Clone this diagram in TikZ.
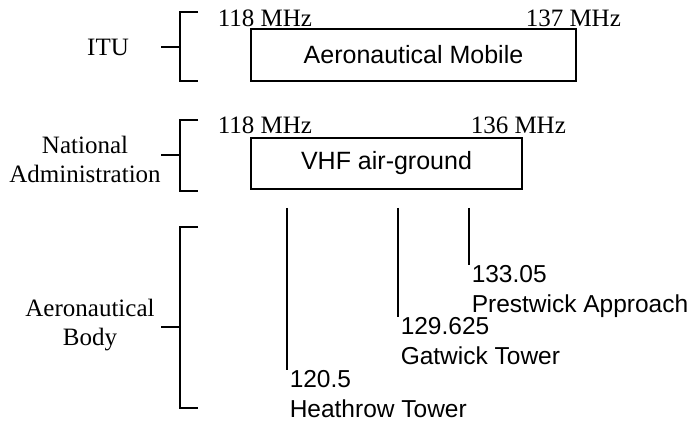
\documentclass[tikz,border=0pt]{standalone}
\usepackage{fontspec}
\setmainfont{Liberation Serif}
\newfontfamily\arialf{Liberation Sans}
\begin{document}
\begin{tikzpicture}[x=1pt,y=-1pt,line width=1.5pt,
  serif/.style={font=\fontsize{25}{29.5}\selectfont, inner sep=0pt, align=center},
  sans/.style={font=\arialf\fontsize{24.5}{30}\selectfont, inner sep=0pt, align=left},
  band/.style={draw, inner sep=0pt, font=\arialf\fontsize{25}{30}\selectfont},
  freq/.style={font=\fontsize{25}{30}\selectfont, inner sep=0pt, anchor=base west}]
\useasboundingbox (0,0) rectangle (691,427);

% side labels
\node[serif] (itu) at (108,47) {ITU};
\node[serif, anchor=base] (nat) at (85,183) {National\\Administration};
\node[serif, anchor=base] (aer) at (90,346) {Aeronautical\\Body};

% brackets
\coordinate (b1t) at (198,12); \coordinate (b1b) at (198,81);
\draw (b1t) -- (180,12) -- (180,81) -- (b1b);
\draw (161,47) -- (180,47);
\coordinate (b2t) at (198,120); \coordinate (b2b) at (198,191);
\draw (b2t) -- (180,120) -- (180,191) -- (b2b);
\draw (161,155) -- (180,155);
\coordinate (b3t) at (198,227); \coordinate (b3b) at (198,408);
\draw (b3t) -- (180,227) -- (180,408) -- (b3b);
\draw (161,327) -- (180,327);

% bands
\node[band, minimum width=325pt, minimum height=52pt] (am) at (413.5,55) {Aeronautical Mobile};
\node[band, minimum width=271pt, minimum height=51pt] (vhf) at (386.5,163.5) {VHF air-ground};

\node[freq] (f1) at (217,27) {118 MHz};
\node[freq] (f2) at (525,27) {137 MHz};
\node[freq] (f3) at (217,134) {118 MHz};
\node[freq] (f4) at (470,134) {136 MHz};

% channels
\node[sans, anchor=north west] (hr) at (289,370) {120.5\\Heathrow Tower};
\node[sans, anchor=north west] (gw) at (400,317) {129.625\\Gatwick Tower};
\node[sans, anchor=north west] (pw) at (471,265) {133.05\\Prestwick Approach};
\coordinate (hrt) at (287,208);
\coordinate (gwt) at (398,208);
\coordinate (pwt) at (469,208);
\draw (hrt) -- (hrt |- hr.north);
\draw (gwt) -- (gwt |- gw.north);
\draw (pwt) -- (pwt |- pw.north);
\end{tikzpicture}
\end{document}
